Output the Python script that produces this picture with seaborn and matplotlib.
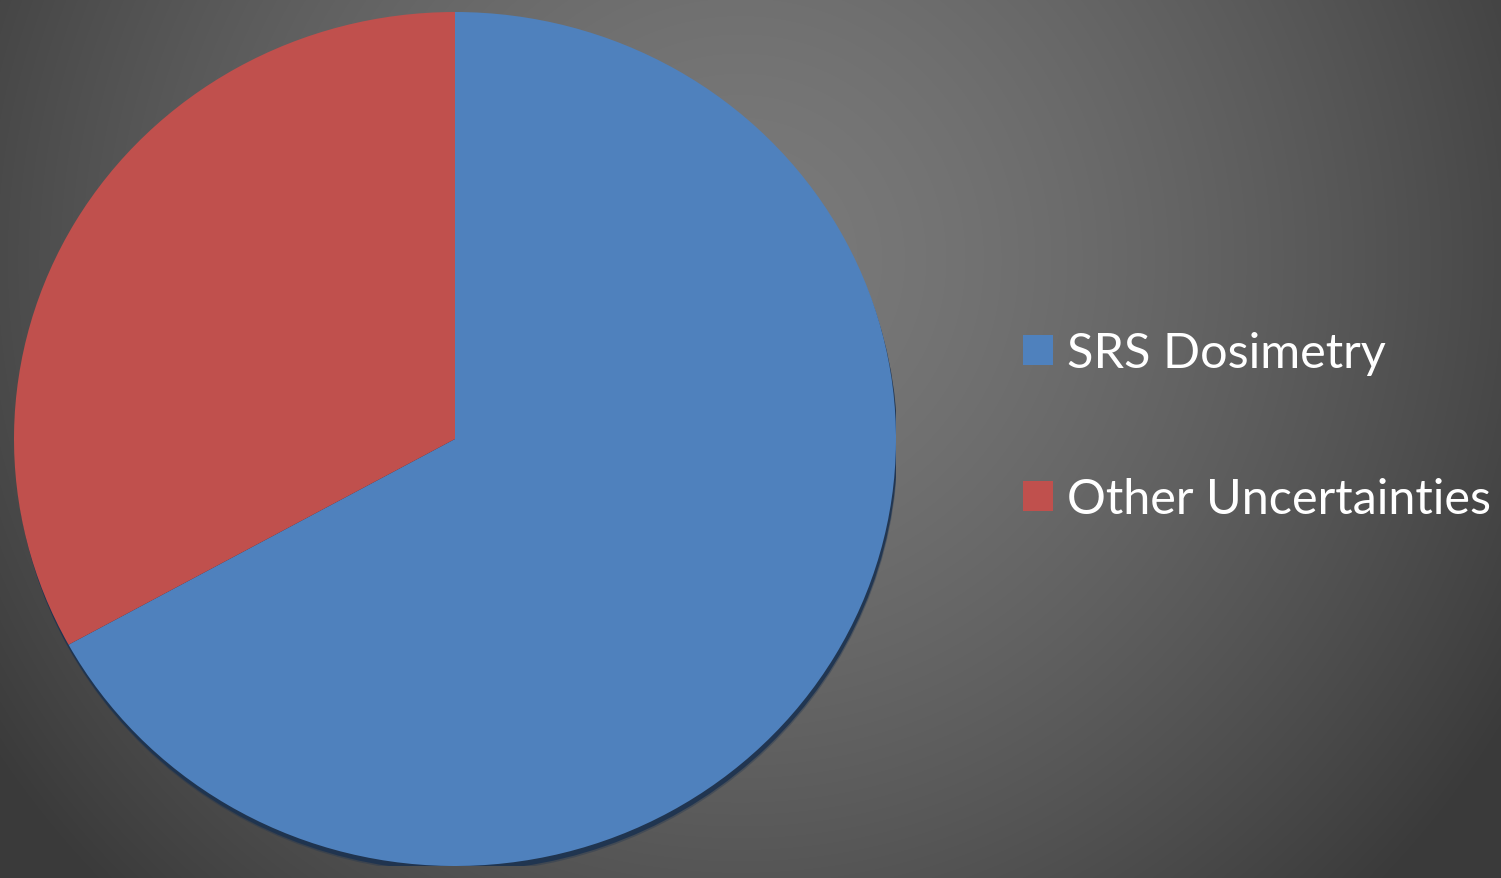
import numpy as np
import matplotlib
matplotlib.use("Agg")
import matplotlib.pyplot as plt
from matplotlib.patches import Ellipse
from matplotlib.lines import Line2D
import seaborn as sns

# Share of the total uncertainty budget
categories = ["SRS Dosimetry", "Other Uncertainties"]
shares = [67, 33]
slice_colors = ["#4F81BD", "#C0504D"]

sns.set_theme(style="white")
plt.rcParams["font.family"] = ["Lato", "DejaVu Sans"]

W, H = 1501, 879
fig = plt.figure(figsize=(W / 100, H / 100), dpi=100)

# Radial grey backdrop
bg = fig.add_axes([0, 0, 1, 1])
yy, xx = np.mgrid[0:H, 0:W]
d = np.hypot(xx - 740, yy - 260) / 900.0
d = np.clip(d, 0, 1) ** 1.5
inner, outer = 0x7A / 255, 0x3A / 255
grey = inner - (inner - outer) * d
bg.imshow(np.dstack([grey, grey, grey]), extent=[0, W, H, 0], aspect="auto",
          interpolation="bilinear")
bg.set_xlim(0, W)
bg.set_ylim(H, 0)
bg.axis("off")

# Pie axes, sized in pixels
cx, cy, rx, ry = 455, 440, 441, 427
ax = fig.add_axes([(cx - rx) / W, (H - cy - ry) / H, 2 * rx / W, 2 * ry / H])
ax.set_facecolor("none")

# Soft drop shadow, mostly below the pie
for off, alpha in [((0.004, -0.016), 0.35), ((0.003, -0.012), 0.9)]:
    ax.add_patch(Ellipse(off, 2, 2, facecolor="#1d3350", alpha=alpha,
                         edgecolor="none", zorder=0))

ax.pie(shares, colors=slice_colors, startangle=90, counterclock=False,
       radius=1, wedgeprops=dict(linewidth=0), center=(0, 0))
ax.set_aspect("auto")
ax.set_xlim(-1, 1)
ax.set_ylim(-1, 1)
ax.axis("off")

handles = [Line2D([0], [0], marker="s", linestyle="none", markersize=21,
                  markerfacecolor=c, markeredgewidth=0) for c in slice_colors]
fig.legend(handles, categories, loc="center left",
           bbox_to_anchor=(970 / W, 1 - 427 / H), frameon=False,
           fontsize=35, labelcolor="white", handletextpad=0.1,
           labelspacing=2.08, handlelength=1.0)

fig.savefig("out.png", dpi=100)
